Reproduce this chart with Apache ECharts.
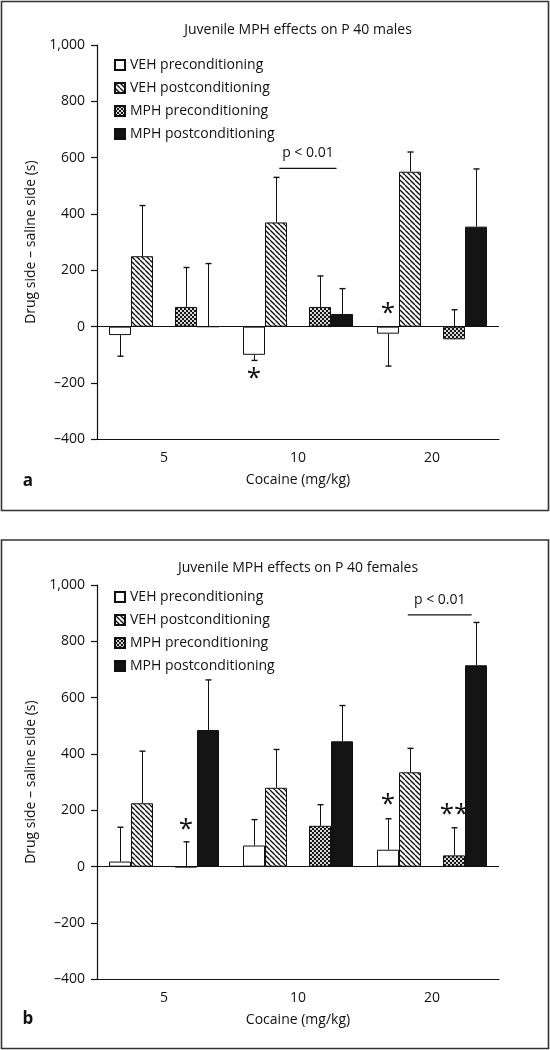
<!DOCTYPE html>
<html><head><meta charset="utf-8">
<script src="https://cdn.jsdelivr.net/npm/echarts@6/dist/echarts.min.js"></script>
<style>html,body{margin:0;padding:0;background:#fff}#c{width:550px;height:1050px}</style>
</head><body><div id="c"></div>
<script>
// ---------- DATA ----------
const categories = ['5', '10', '20'];
const seriesNames = ['VEH preconditioning', 'VEH postconditioning', 'MPH preconditioning', 'MPH postconditioning'];
const yMin = -400, yMax = 1000, yStep = 200;

// Panel a: males
const malesVehPre  = [-30, -100, -25];
const malesVehPost = [250, 370, 550];
const malesMphPre  = [70, 70, -45];
const malesMphPost = [0, 45, 355];
// error bar tips (value reached by the error bar)
const malesVehPreErr  = [-105, -120, -140];
const malesVehPostErr = [430, 530, 620];
const malesMphPreErr  = [210, 180, 60];
const malesMphPostErr = [224, 135, 560];
// annotations: [category index, series index, value, text]
const malesStars = [[1, 0, -178, '*'], [2, 0, 55, '*']];
// bracket: [category index, value, text]
const malesBracket = [[1, 562, 'p < 0.01']];

// Panel b: females
const femalesVehPre  = [18, 75, 60];
const femalesVehPost = [225, 280, 335];
const femalesMphPre  = [-2, 145, 40];
const femalesMphPost = [485, 445, 715];
const femalesVehPreErr  = [140, 167, 170];
const femalesVehPostErr = [410, 416, 420];
const femalesMphPreErr  = [88, 220, 138];
const femalesMphPostErr = [663, 572, 867];
const femalesStars = [[0, 2, 139, '*'], [2, 0, 226, '*'], [2, 2, 192, '**']];
const femalesBracket = [[2, 894, 'p < 0.01']];

const titles = ['Juvenile MPH effects on P 40 males', 'Juvenile MPH effects on P 40 females'];
const panelLetters = ['a', 'b'];
const xName = 'Cocaine (mg/kg)';
const yName = 'Drug side \u2013 saline side (s)';

// ---------- STYLE ----------
const FONT = '"Open Sans", "Noto Sans", sans-serif';
const INK = '#111';
const BAR_W = 22;
const SLOTS = [0, 1, 3, 4]; // slot 2 is an empty spacer

function hatch() {
  const s = 5, c = document.createElement('canvas'); c.width = c.height = s;
  const g = c.getContext('2d'); g.fillStyle = '#fff'; g.fillRect(0, 0, s, s);
  g.strokeStyle = '#111'; g.lineWidth = 1.35;
  for (const k of [-1, 0, 1]) { g.beginPath(); g.moveTo(k * s, 0); g.lineTo(k * s + s, s); g.stroke(); }
  return c;
}
function checker() {
  const c = document.createElement('canvas'); c.width = c.height = 4;
  const g = c.getContext('2d'); g.fillStyle = '#d8d8d8'; g.fillRect(0, 0, 4, 4);
  g.fillStyle = '#161616'; g.fillRect(0, 0, 2, 2); g.fillRect(2, 2, 2, 2);
  return c;
}
const barStyles = [
  { color: '#ffffff', borderColor: INK, borderWidth: 1 },
  { color: { image: hatch(), repeat: 'repeat' }, borderColor: INK, borderWidth: 1 },
  { color: { image: checker(), repeat: 'repeat' }, borderColor: INK, borderWidth: 1 },
  { color: '#141414', borderColor: INK, borderWidth: 1 }
];

const panels = [
  { top: 45, values: [malesVehPre, malesVehPost, malesMphPre, malesMphPost],
    errs: [malesVehPreErr, malesVehPostErr, malesMphPreErr, malesMphPostErr],
    stars: malesStars, bracket: malesBracket, legendTop: 52, bracketSpan: [1.15, 3.75] },
  { top: 585, values: [femalesVehPre, femalesVehPost, femalesMphPre, femalesMphPost],
    errs: [femalesVehPreErr, femalesVehPostErr, femalesMphPreErr, femalesMphPostErr],
    stars: femalesStars, bracket: femalesBracket, legendTop: 584, bracketSpan: [0.9, 3.8] }
];

const fmt = v => (v < 0 ? '\u2013' : '') + Math.abs(v).toLocaleString('en-US');

const grid = [], xAxis = [], yAxis = [], series = [], legend = [], graphic = [];

panels.forEach((p, pi) => {
  grid.push({ left: 97, width: 402, top: p.top, height: 394.3 });
  xAxis.push({
    type: 'category', gridIndex: pi, data: categories, position: 'bottom',
    axisLine: { onZero: false, lineStyle: { color: INK, width: 1.2 } },
    axisTick: { length: 6, lineStyle: { color: INK, width: 1.2 } },
    axisLabel: { color: INK, fontSize: 14, fontFamily: FONT, margin: 12 },
    name: xName, nameLocation: 'middle', nameGap: 34,
    nameTextStyle: { color: INK, fontSize: 14, fontFamily: FONT }
  });
  yAxis.push({
    type: 'value', gridIndex: pi, min: yMin, max: yMax, interval: yStep,
    axisLine: { show: true, lineStyle: { color: INK, width: 1.2 } },
    axisTick: { show: true, length: 6, lineStyle: { color: INK, width: 1.2 } },
    splitLine: { show: false },
    axisLabel: { color: INK, fontSize: 14, fontFamily: FONT, margin: 12, formatter: fmt },
    name: yName, nameLocation: 'middle', nameGap: 57, nameRotate: 90,
    nameTextStyle: { color: INK, fontSize: 14, fontFamily: FONT }
  });

  const makeBar = (k) => ({
    type: 'bar', name: seriesNames[k], xAxisIndex: pi, yAxisIndex: pi,
    data: p.values[k], barWidth: BAR_W, barGap: '0%', z: 2,
    itemStyle: barStyles[k], emphasis: { disabled: true }, silent: true
  });
  const b0 = makeBar(0);
  b0.markLine = {
    silent: true, symbol: ['none', 'none'], label: { show: false },
    lineStyle: { color: INK, width: 1.2, type: 'solid' },
    data: [{ yAxis: 0 }], z: 4
  };
  series.push(b0, makeBar(1));
  series.push({ type: 'bar', name: '_spacer', xAxisIndex: pi, yAxisIndex: pi, data: [null, null, null], barWidth: BAR_W, barGap: '0%', silent: true });
  series.push(makeBar(2), makeBar(3));

  // error bars
  const errData = [];
  for (let k = 0; k < 4; k++) for (let c = 0; c < categories.length; c++) {
    errData.push([c, SLOTS[k], p.values[k][c], p.errs[k][c]]);
  }
  series.push({
    type: 'custom', xAxisIndex: pi, yAxisIndex: pi, z: 1, silent: true,
    data: errData, encode: { x: 0, y: [2, 3] },
    renderItem: (params, api) => {
      const cat = api.value(0), slot = api.value(1), v = api.value(2), tip = api.value(3);
      const a = api.coord([cat, v]), b = api.coord([cat, tip]);
      const x = Math.round(a[0] + (slot - 2) * BAR_W) + 0.5;
      return { type: 'group', children: [
        { type: 'line', shape: { x1: x, y1: a[1], x2: x, y2: b[1] }, style: { stroke: INK, lineWidth: 1 } },
        { type: 'line', shape: { x1: x - 3, y1: b[1], x2: x + 3, y2: b[1] }, style: { stroke: INK, lineWidth: 1.4 } }
      ] };
    }
  });

  // stars
  series.push({
    type: 'custom', xAxisIndex: pi, yAxisIndex: pi, z: 5, silent: true,
    data: p.stars.map(s => [s[0], SLOTS[s[1]], s[2]]), encode: { x: 0, y: 2 },
    renderItem: (params, api) => {
      const pt = api.coord([api.value(0), api.value(2)]);
      const x = pt[0] + (api.value(1) - 2) * BAR_W;
      return { type: 'text', x: x, y: pt[1] + 2, style: {
        text: p.stars[params.dataIndex][3], fill: INK, fontSize: 26, fontFamily: FONT,
        align: 'center', verticalAlign: 'middle' } };
    }
  });

  // significance bracket
  series.push({
    type: 'custom', xAxisIndex: pi, yAxisIndex: pi, z: 5, silent: true,
    data: p.bracket.map(b => [b[0], b[1]]), encode: { x: 0, y: 1 },
    renderItem: (params, api) => {
      const pt = api.coord([api.value(0), api.value(1)]);
      const x1 = pt[0] + (p.bracketSpan[0] - 2) * BAR_W;
      const x2 = pt[0] + (p.bracketSpan[1] - 2) * BAR_W;
      return { type: 'group', children: [
        { type: 'line', shape: { x1: x1, y1: pt[1], x2: x2, y2: pt[1] }, style: { stroke: INK, lineWidth: 1.2 } },
        { type: 'text', x: (x1 + x2) / 2, y: pt[1] - 15, style: {
          text: p.bracket[params.dataIndex][2], fill: INK, fontSize: 14, fontFamily: FONT,
          align: 'center', verticalAlign: 'middle' } }
      ] };
    }
  });

  legend.push({
    data: seriesNames, orient: 'vertical', left: 109, top: p.legendTop, icon: 'rect',
    itemWidth: 10, itemHeight: 10, itemGap: 7, selectedMode: false,
    textStyle: { color: INK, fontSize: 14, fontFamily: FONT, lineHeight: 16 }
  });
});

graphic.push(
  { type: 'rect', shape: { x: 1.5, y: 1.5, width: 547, height: 509 }, style: { fill: 'none', stroke: '#333', lineWidth: 1.6 } },
  { type: 'rect', shape: { x: 1.5, y: 540, width: 547, height: 508.5 }, style: { fill: 'none', stroke: '#333', lineWidth: 1.6 } },
  { type: 'text', x: 298, y: 30, style: { text: titles[0], fill: INK, fontSize: 14, fontFamily: FONT, align: 'center', verticalAlign: 'middle' } },
  { type: 'text', x: 298, y: 568, style: { text: titles[1], fill: INK, fontSize: 14, fontFamily: FONT, align: 'center', verticalAlign: 'middle' } },
  { type: 'text', x: 28, y: 481, style: { text: panelLetters[0], fill: INK, fontSize: 17, fontWeight: 'bold', fontFamily: FONT, align: 'center', verticalAlign: 'middle' } },
  { type: 'text', x: 28, y: 1019, style: { text: panelLetters[1], fill: INK, fontSize: 17, fontWeight: 'bold', fontFamily: FONT, align: 'center', verticalAlign: 'middle' } }
);

const chart = echarts.init(document.getElementById('c'), null, { renderer: 'canvas' });
chart.setOption({ animation: false, backgroundColor: '#fff', grid, xAxis, yAxis, series, legend, graphic });
</script>
</body></html>
